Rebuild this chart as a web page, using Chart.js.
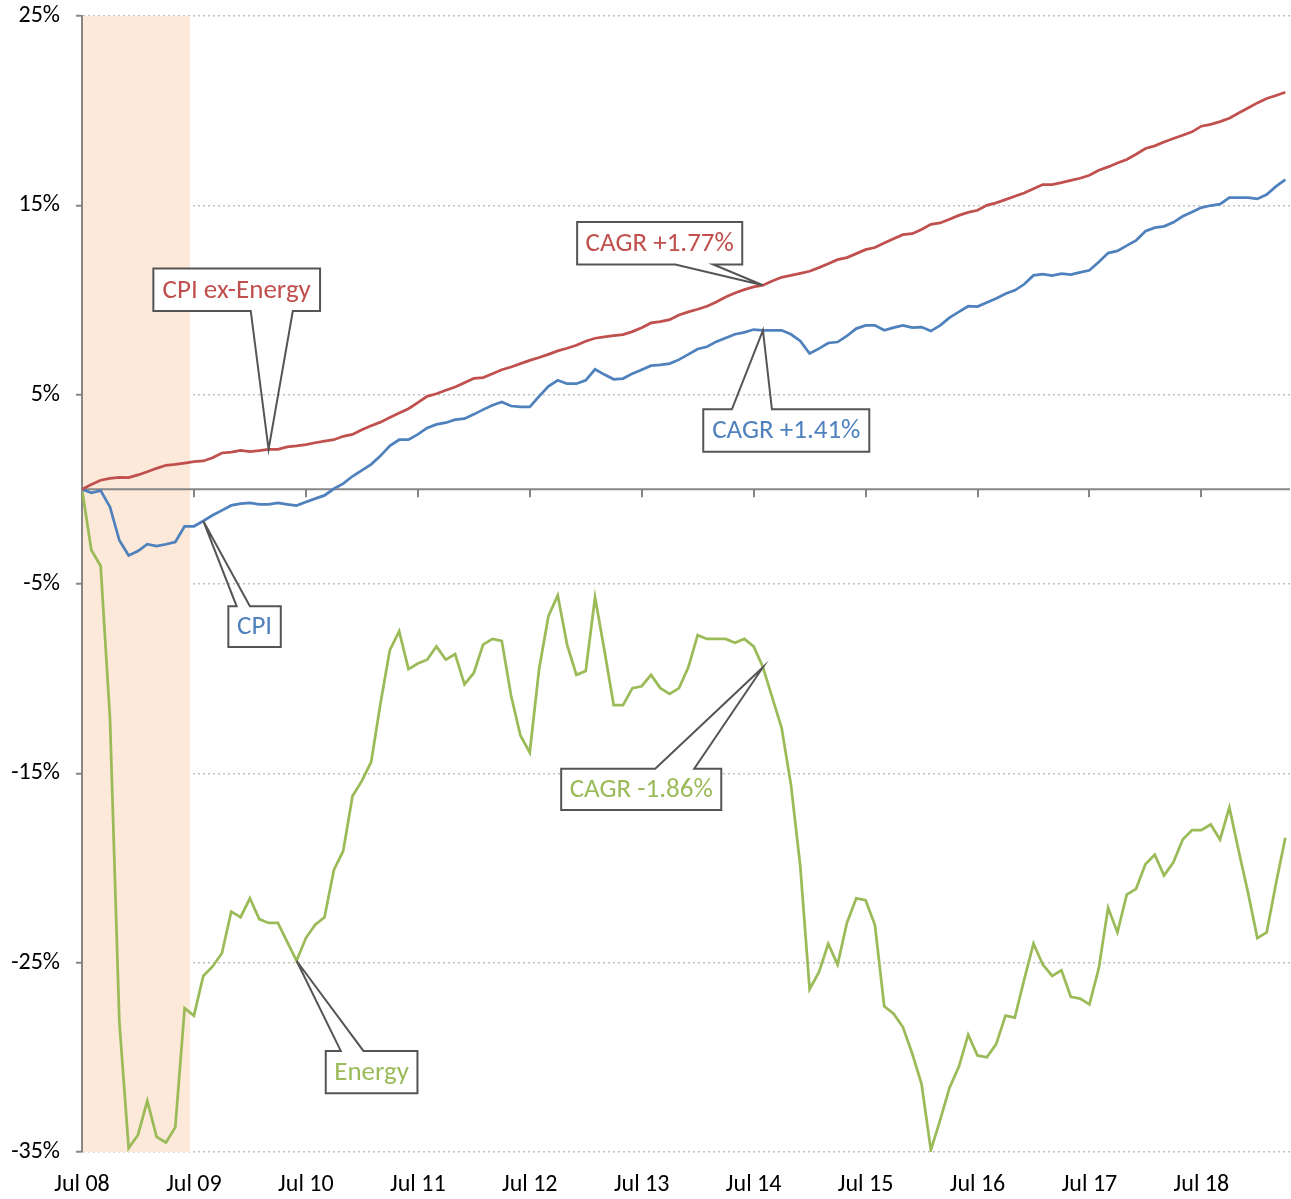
<!DOCTYPE html>
<html>
<head>
<meta charset="utf-8">
<script src="https://cdn.jsdelivr.net/npm/chart.js@4.4.1/dist/chart.umd.min.js"></script>
<style>
  html, body { margin: 0; padding: 0; background: #fff; }
  #wrap { width: 1291px; height: 1199px; }
</style>
</head>
<body>
<div id="wrap"><canvas id="cpiChart"></canvas></div>
<script>
// monthly, Jul 08 .. Apr 19, cumulative change in %
const monthNames = ["Jan","Feb","Mar","Apr","May","Jun","Jul","Aug","Sep","Oct","Nov","Dec"];
const months = [];
for (let i = 0; i < 130; i++) {
  const m = (6 + i) % 12, yr = 8 + Math.floor((6 + i) / 12);
  months.push(monthNames[m] + " " + String(yr).padStart(2, "0"));
}

const tickLabels = ["Jul 08","Jul 09","Jul 10","Jul 11","Jul 12","Jul 13","Jul 14","Jul 15","Jul 16","Jul 17","Jul 18"];
const yTicks = [-35, -25, -15, -5, 5, 15, 25];

const cpiExEnergy = [
  0, 0.26, 0.48, 0.58, 0.63, 0.62, 0.76, 0.93, 1.11, 1.27, 1.32, 1.39,
  1.46, 1.5, 1.67, 1.92, 1.97, 2.06, 1.99, 2.04, 2.11, 2.11, 2.24, 2.29,
  2.36, 2.46, 2.55, 2.62, 2.8, 2.9, 3.15, 3.36, 3.55, 3.79, 4.03, 4.26,
  4.58, 4.91, 5.05, 5.23, 5.4, 5.63, 5.86, 5.9, 6.11, 6.32, 6.46, 6.64,
  6.81, 6.96, 7.13, 7.31, 7.45, 7.61, 7.82, 7.98, 8.05, 8.12, 8.17, 8.33,
  8.54, 8.79, 8.86, 8.96, 9.21, 9.37, 9.51, 9.67, 9.9, 10.16, 10.37, 10.55,
  10.69, 10.78, 11.0, 11.2, 11.3, 11.41, 11.52, 11.71, 11.92, 12.13, 12.24, 12.45,
  12.66, 12.77, 13.01, 13.24, 13.45, 13.5, 13.72, 14.0, 14.07, 14.26, 14.47, 14.63,
  14.74, 15.0, 15.13, 15.3, 15.48, 15.65, 15.88, 16.1, 16.1, 16.2, 16.32, 16.43,
  16.59, 16.85, 17.03, 17.24, 17.42, 17.7, 18.0, 18.14, 18.35, 18.53, 18.7, 18.88,
  19.18, 19.28, 19.42, 19.6, 19.88, 20.14, 20.41, 20.64, 20.8, 20.97
];

const cpi = [
  0, -0.18, -0.07, -0.93, -2.69, -3.49, -3.26, -2.9, -3.0, -2.9, -2.78, -1.95,
  -1.95, -1.67, -1.37, -1.11, -0.85, -0.76, -0.72, -0.79, -0.79, -0.72, -0.79, -0.86,
  -0.67, -0.49, -0.32, 0.03, 0.3, 0.69, 1.0, 1.32, 1.77, 2.3, 2.62, 2.62,
  2.9, 3.24, 3.43, 3.52, 3.68, 3.73, 3.96, 4.21, 4.44, 4.61, 4.4, 4.35,
  4.35, 4.91, 5.44, 5.76, 5.58, 5.58, 5.76, 6.34, 6.06, 5.81, 5.85, 6.11,
  6.32, 6.53, 6.57, 6.64, 6.85, 7.13, 7.41, 7.53, 7.8, 7.99, 8.19, 8.29,
  8.44, 8.4, 8.4, 8.4, 8.19, 7.84, 7.17, 7.43, 7.73, 7.78, 8.1, 8.49,
  8.66, 8.66, 8.4, 8.54, 8.66, 8.54, 8.57, 8.36, 8.66, 9.07, 9.37, 9.67,
  9.65, 9.87, 10.08, 10.33, 10.51, 10.83, 11.3, 11.36, 11.29, 11.39, 11.34, 11.46,
  11.57, 12.01, 12.48, 12.59, 12.87, 13.15, 13.63, 13.82, 13.89, 14.1, 14.42, 14.65,
  14.88, 14.99, 15.06, 15.41, 15.41, 15.41, 15.34, 15.57, 16.0, 16.36
];

const energy = [
  0, -3.2, -4.05, -12.1, -28.1, -34.8, -34.1, -32.3, -34.2, -34.5, -33.7, -27.4,
  -27.8, -25.7, -25.2, -24.5, -22.3, -22.6, -21.6, -22.7, -22.9, -22.9, -23.9, -24.9,
  -23.7, -23.0, -22.6, -20.1, -19.1, -16.2, -15.4, -14.4, -11.3, -8.5, -7.5, -9.5,
  -9.2, -9.0, -8.3, -9.0, -8.7, -10.3, -9.7, -8.2, -7.9, -8.0, -10.9, -13.0,
  -13.9, -9.5, -6.7, -5.6, -8.2, -9.8, -9.6, -5.7, -8.5, -11.4, -11.4, -10.5,
  -10.4, -9.8, -10.5, -10.8, -10.5, -9.4, -7.7, -7.9, -7.9, -7.9, -8.1, -7.9,
  -8.3, -9.4, -11.0, -12.6, -15.6, -19.9, -26.4, -25.5, -24.0, -25.1, -22.9, -21.6,
  -21.7, -23.0, -27.3, -27.7, -28.4, -29.8, -31.4, -34.9, -33.3, -31.6, -30.5, -28.8,
  -29.9, -30.0, -29.3, -27.8, -27.9, -25.9, -24.0, -25.1, -25.7, -25.4, -26.8, -26.9,
  -27.2, -25.3, -22.1, -23.4, -21.4, -21.1, -19.8, -19.3, -20.4, -19.7, -18.5, -18.0,
  -18.0, -17.7, -18.5, -16.8, -19.1, -21.3, -23.7, -23.4, -20.8, -18.4
];

// recession shading, in month index
const recession = [0, 11.6];

const RED = "#c0504d", BLUE = "#4f81bd", GREEN = "#9bbb59";
const FONT = "Carlito, Lato, sans-serif";

// callout boxes, placed in data units: box [x0, x1, yTop, yBottom], base = where the pointer leaves the box
const callouts = [
  { text: "CPI ex-Energy", color: RED,   series: cpiExEnergy, at: 20, box: [7.65, 25.52, 11.66, 9.42],  base: [18.09, 22.6],  side: "bottom" },
  { text: "CAGR +1.77%",   color: RED,   series: cpiExEnergy, at: 73, box: [53.08, 70.78, 14.12, 11.88], base: [63.6, 67.67],  side: "bottom" },
  { text: "CAGR +1.41%",   color: BLUE,  series: cpi,         at: 73, box: [66.6, 84.4, 4.23, 1.99],    base: [69.67, 73.96], side: "top" },
  { text: "CPI",           color: BLUE,  series: cpi,         at: 13, box: [15.69, 21.31, -6.18, -8.33], base: [16.58, 18.0],  side: "top" },
  { text: "CAGR -1.86%",   color: GREEN, series: energy,      at: 73, box: [51.37, 68.53, -14.76, -16.94], base: [61.45, 65.63], side: "top" },
  { text: "Energy",        color: GREEN, series: energy,      at: 23, box: [26.13, 35.96, -29.66, -31.9], base: [27.74, 30.17], side: "top" }
];

const overlay = {
  id: "overlay",
  beforeDatasetsDraw(chart) {
    const { ctx, chartArea: a, scales: { x, y } } = chart;
    ctx.save();
    const x0 = x.getPixelForValue(recession[0]) + 1;
    const x1 = x.getPixelForValue(recession[1]);
    ctx.fillStyle = "#fde9d9";
    ctx.fillRect(x0, a.top, x1 - x0, a.bottom - a.top);

    // horizontal axis crosses at 0, with small ticks hanging below
    const y0 = y.getPixelForValue(0);
    ctx.strokeStyle = "#868686";
    ctx.lineWidth = 2;
    ctx.beginPath();
    ctx.moveTo(a.left, y0);
    ctx.lineTo(a.right, y0);
    tickLabels.forEach((t, k) => {
      if (!k) return;
      const px = Math.round(x.getPixelForValue(months.indexOf(t)));
      ctx.moveTo(px, y0);
      ctx.lineTo(px, y0 + 8);
    });
    ctx.stroke();
    ctx.restore();
  },
  afterDatasetsDraw(chart) {
    const { ctx, scales: { x, y } } = chart;
    ctx.save();
    callouts.forEach(c => {
      const L = x.getPixelForValue(c.box[0]), R = x.getPixelForValue(c.box[1]);
      const T = y.getPixelForValue(c.box[2]), B = y.getPixelForValue(c.box[3]);
      const ax = x.getPixelForValue(c.at), ay = y.getPixelForValue(c.series[c.at]);
      const b1 = x.getPixelForValue(c.base[0]), b2 = x.getPixelForValue(c.base[1]);

      ctx.fillStyle = "#fff";
      ctx.fillRect(L, T, R - L, B - T);
      ctx.beginPath();
      if (c.side === "bottom") {
        ctx.moveTo(L, T); ctx.lineTo(R, T); ctx.lineTo(R, B);
        ctx.lineTo(b2, B); ctx.lineTo(ax, ay); ctx.lineTo(b1, B);
        ctx.lineTo(L, B);
      } else {
        ctx.moveTo(L, B); ctx.lineTo(R, B); ctx.lineTo(R, T);
        ctx.lineTo(b2, T); ctx.lineTo(ax, ay); ctx.lineTo(b1, T);
        ctx.lineTo(L, T);
      }
      ctx.closePath();
      ctx.strokeStyle = "#555";
      ctx.lineWidth = 2;
      ctx.lineJoin = "miter";
      ctx.stroke();

      ctx.fillStyle = c.color;
      ctx.font = "27px " + FONT;
      ctx.textAlign = "center";
      ctx.textBaseline = "middle";
      ctx.fillText(c.text, (L + R) / 2, (T + B) / 2 + 1);
    });
    ctx.restore();
  }
};

const asPoints = arr => arr.map((v, i) => ({ x: i, y: v }));
const lineStyle = color => ({
  borderColor: color, backgroundColor: color, borderWidth: 2.75,
  pointRadius: 0, tension: 0, fill: false
});

Chart.defaults.font.family = FONT;

new Chart(document.getElementById("cpiChart"), {
  type: "line",
  data: {
    datasets: [
      { label: "CPI ex-Energy", data: asPoints(cpiExEnergy), ...lineStyle(RED) },
      { label: "CPI",           data: asPoints(cpi),         ...lineStyle(BLUE) },
      { label: "Energy",        data: asPoints(energy),      ...lineStyle(GREEN) }
    ]
  },
  options: {
    responsive: true,
    maintainAspectRatio: false,
    animation: false,
    layout: { padding: { top: 16, right: 1, left: 0, bottom: 0 } },
    plugins: {
      legend: { display: false },
      tooltip: {
        mode: "index", intersect: false,
        callbacks: {
          title: items => months[items[0].parsed.x],
          label: ctx => ` ${ctx.dataset.label}: ${ctx.parsed.y.toFixed(2)}%`
        }
      }
    },
    scales: {
      x: {
        type: "linear",
        min: 0, max: 129.5,
        afterBuildTicks: s => { s.ticks = tickLabels.map(t => ({ value: months.indexOf(t) })); },
        afterFit: s => { s.height = 47; s.paddingLeft = 0; s.paddingRight = 0; },
        ticks: {
          autoSkip: false, maxRotation: 0, padding: 19,
          color: "#000", font: { size: 24 },
          callback: (v, i) => tickLabels[i]
        },
        grid: { display: false, drawTicks: false },
        border: { display: false }
      },
      y: {
        min: -35, max: 25,
        afterBuildTicks: s => { s.ticks = yTicks.map(v => ({ value: v })); },
        afterFit: s => { s.width = 82; s.paddingTop = 0; s.paddingBottom = 0; },
        ticks: {
          padding: 16, color: "#000", font: { size: 24 },
          callback: v => v + "%"
        },
        grid: {
          color: "#bfbfbf", lineWidth: 1.5,
          tickColor: "#868686", tickLength: 6, tickWidth: 2, tickBorderDash: []
        },
        border: { display: true, color: "#868686", width: 2, dash: [2, 3] }
      }
    }
  },
  plugins: [overlay]
});
</script>
</body>
</html>
